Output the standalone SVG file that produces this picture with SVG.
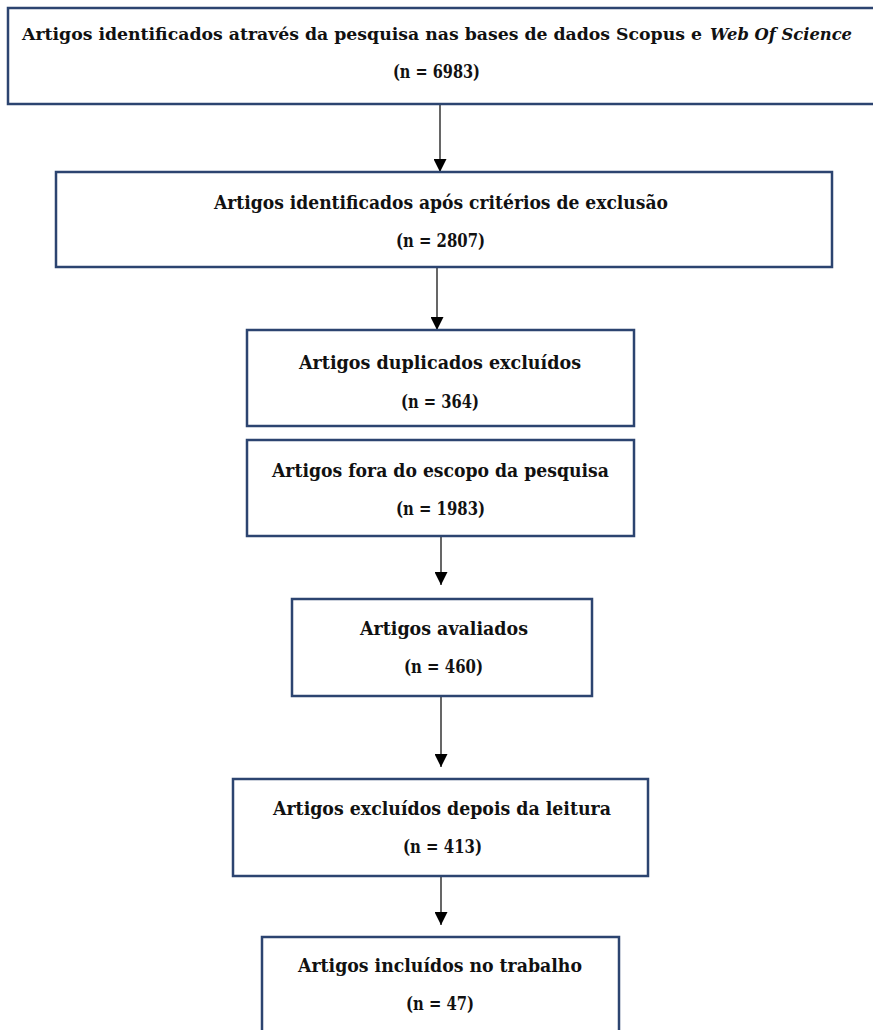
<svg xmlns="http://www.w3.org/2000/svg" width="873" height="1030" viewBox="0 0 873 1030">
  <style>
    .box { fill: #ffffff; stroke: #2c4470; stroke-width: 2.5; }
    .t { font-family: "DejaVu Serif", "Liberation Serif", serif; font-weight: bold; font-size: 18px; fill: #111111; }
    .t16 { font-size: 16px; }
    .c { text-anchor: middle; }
    .e { text-anchor: end; }
    .it { font-style: italic; }
    .conn { stroke: #000000; stroke-width: 1.2; fill: none; marker-end: url(#ah); }
  </style>
  <defs>
    <marker id="ah" markerUnits="userSpaceOnUse" viewBox="0 0 13 13" markerWidth="13" markerHeight="13" refX="13" refY="6.5" orient="auto">
      <path d="M0,0 L13,6.5 L0,13 z" fill="#000000"/>
    </marker>
  </defs>
  <rect width="873" height="1030" fill="#ffffff"/>

  <g id="connectors">
    <line class="conn" x1="440" y1="105" x2="440" y2="172"/>
    <line class="conn" x1="437" y1="268" x2="437" y2="330"/>
    <line class="conn" x1="441" y1="537" x2="441" y2="585"/>
    <line class="conn" x1="441" y1="697" x2="441" y2="767"/>
    <line class="conn" x1="441" y1="877" x2="441" y2="925"/>
  </g>

  <g id="n1">
    <rect class="box" x="8" y="8" width="880" height="96"/>
    <text class="t t16" x="22" y="40" textLength="680" lengthAdjust="spacingAndGlyphs">Artigos identificados através da pesquisa nas bases de dados Scopus e</text>
    <text class="t t16 it e" x="852" y="40" textLength="142" lengthAdjust="spacingAndGlyphs">Web Of Science</text>
    <text class="t c" x="436.5" y="78" textLength="87" lengthAdjust="spacingAndGlyphs">(n = 6983)</text>
  </g>

  <g id="n2">
    <rect class="box" x="56" y="172" width="776" height="95"/>
    <text class="t c" x="441" y="209" textLength="454" lengthAdjust="spacingAndGlyphs">Artigos identificados após critérios de exclusão</text>
    <text class="t c" x="440.5" y="247" textLength="89" lengthAdjust="spacingAndGlyphs">(n = 2807)</text>
  </g>

  <g id="n3">
    <rect class="box" x="247" y="330" width="387" height="96"/>
    <text class="t c" x="440" y="369" textLength="282" lengthAdjust="spacingAndGlyphs">Artigos duplicados excluídos</text>
    <text class="t c" x="440" y="408" textLength="78" lengthAdjust="spacingAndGlyphs">(n = 364)</text>
  </g>

  <g id="n4">
    <rect class="box" x="247" y="440" width="387" height="96"/>
    <text class="t c" x="440.5" y="477" textLength="337" lengthAdjust="spacingAndGlyphs">Artigos fora do escopo da pesquisa</text>
    <text class="t c" x="440.5" y="515" textLength="89" lengthAdjust="spacingAndGlyphs">(n = 1983)</text>
  </g>

  <g id="n5">
    <rect class="box" x="292" y="599" width="300" height="97"/>
    <text class="t c" x="444" y="635" textLength="168" lengthAdjust="spacingAndGlyphs">Artigos avaliados</text>
    <text class="t c" x="443.5" y="673" textLength="79" lengthAdjust="spacingAndGlyphs">(n = 460)</text>
  </g>

  <g id="n6">
    <rect class="box" x="233" y="779" width="415" height="97"/>
    <text class="t c" x="442" y="815" textLength="338" lengthAdjust="spacingAndGlyphs">Artigos excluídos depois da leitura</text>
    <text class="t c" x="442.5" y="853" textLength="79" lengthAdjust="spacingAndGlyphs">(n = 413)</text>
  </g>

  <g id="n7">
    <rect class="box" x="262" y="937" width="357" height="110"/>
    <text class="t c" x="440" y="972" textLength="284" lengthAdjust="spacingAndGlyphs">Artigos incluídos no trabalho</text>
    <text class="t c" x="440" y="1010" textLength="68" lengthAdjust="spacingAndGlyphs">(n = 47)</text>
  </g>
</svg>
